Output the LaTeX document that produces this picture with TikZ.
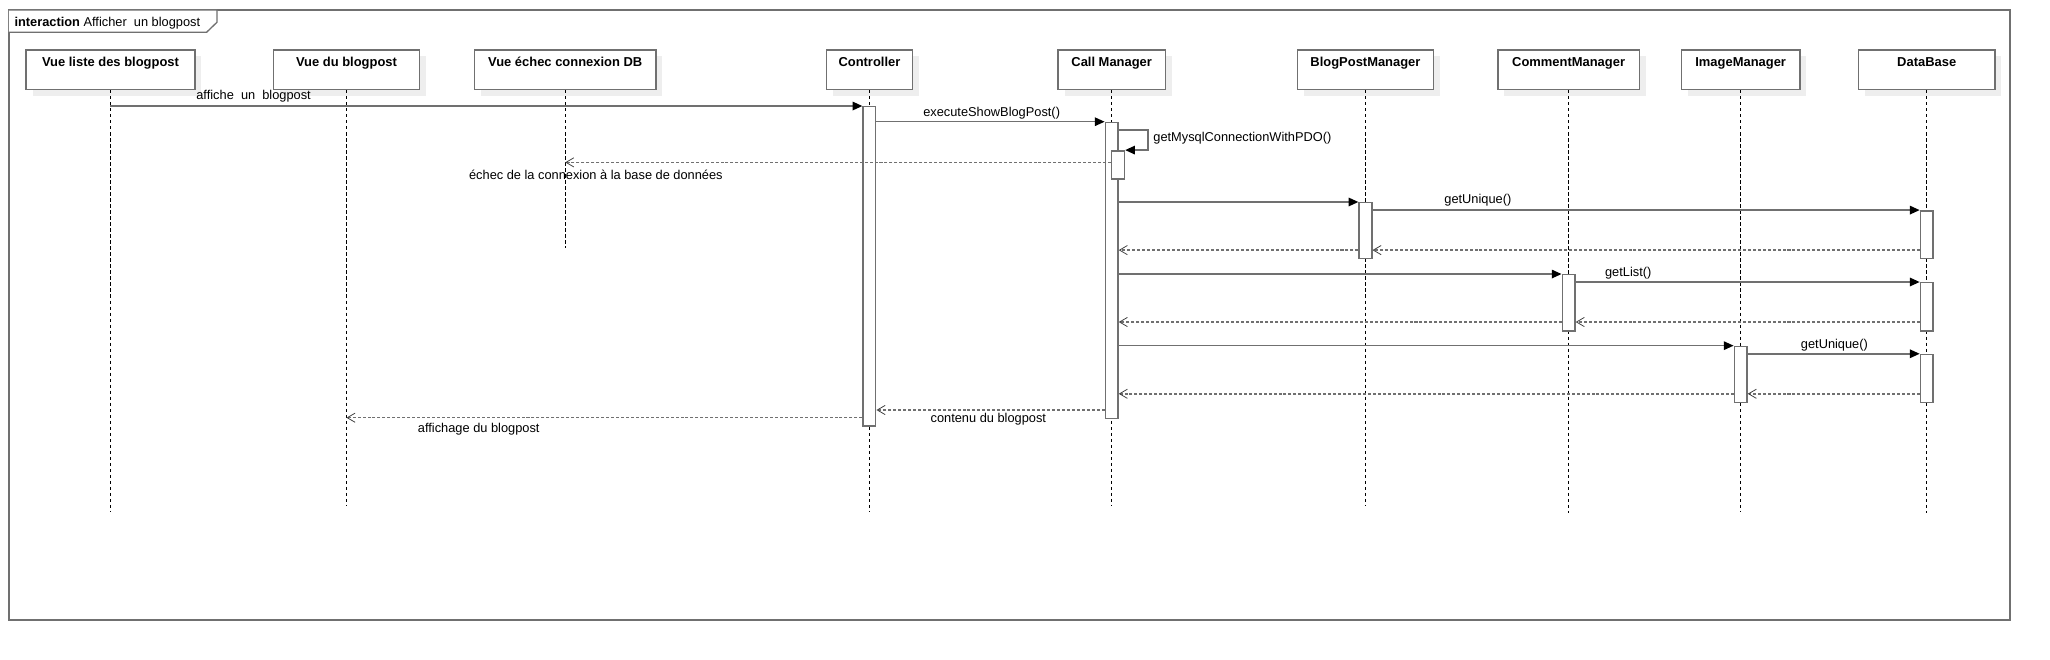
\documentclass[tikz,border=0pt]{standalone}
\usepackage{fontspec}
\setmainfont{Liberation Sans}
\usetikzlibrary{arrows.meta,shadows,calc}
\definecolor{lgray}{HTML}{707070}
\definecolor{tipgray}{HTML}{404040}
\definecolor{shgray}{HTML}{EEEEEE}
\begin{document}
\begin{tikzpicture}[x=1pt,y=-1pt,
  every node/.style={font=\fontsize{9.8}{11}\selectfont},
  lifebox/.style={draw=lgray, line width=1.1pt, fill=white, inner sep=0pt,
    text height=12.8pt, text depth=17.3pt, anchor=base,
    font=\fontsize{9.9}{11}\selectfont\bfseries,
    drop shadow={shadow xshift=5pt, shadow yshift=-4.8pt, fill=shgray, opacity=1}},
  lifeline/.style={draw=black, line width=0.6pt, dash pattern=on 2.6pt off 2pt},
  actbar/.style={draw=lgray, fill=white, line width=1.1pt, minimum width=9.7pt, inner sep=0pt, anchor=north},
  callmsg/.style={draw=lgray, line width=1.2pt, -{Triangle[length=7.5pt,width=6.5pt,fill=black,color=black]}},
  retmsg/.style={draw=lgray, line width=1.1pt, dash pattern=on 2.3pt off 1.5pt, -{Straight Barb[length=6pt,width=7pt,color=tipgray,line width=0.6pt]}},
  msglabel/.style={anchor=base west, inner sep=0pt},
]
\useasboundingbox (0,0) rectangle (1568,504.8);

% frame
\draw[draw=lgray, line width=1.2pt] (6.8,7.6) rectangle (1537.5,474.2);
\draw[draw=lgray, line width=1pt, fill=white] (6.8,7.6) -- (166,7.6) -- (166,17) -- (158,24.7) -- (6.8,24.7);
\node[msglabel] (title) at (10.9,20.4) {\textbf{interaction} Afficher\ \ un blogpost};

% lifeline heads
\node[lifebox, minimum width=129pt]   (vl)  at (84.5,51)  {Vue liste des blogpost};
\node[lifebox, minimum width=111.7pt] (vb)  at (265,51)   {Vue du blogpost};
\node[lifebox, minimum width=138.6pt] (vc)  at (432.3,51) {Vue échec connexion DB};
\node[lifebox, minimum width=66pt]    (ctl) at (665,51)   {Controller};
\node[lifebox, minimum width=82pt]    (cm)  at (850.3,51) {Call Manager};
\node[lifebox, minimum width=104pt]   (bpm) at (1044.4,51){BlogPostManager};
\node[lifebox, minimum width=108.2pt] (com) at (1199.8,51){CommentManager};
\node[lifebox, minimum width=90.4pt]  (im)  at (1331.4,51){ImageManager};
\node[lifebox, minimum width=104.3pt] (db)  at (1473.7,51){DataBase};

% lifeline ends
\coordinate (vlend)  at (84.5,391.3);
\coordinate (vbend)  at (265,387);
\coordinate (vcend)  at (432.3,190);
\coordinate (ctlend) at (665,391.3);
\coordinate (cmend)  at (850.3,387);
\coordinate (bpmend) at (1044.4,387);
\coordinate (comend) at (1199.8,392);
\coordinate (imend)  at (1331.4,391);
\coordinate (dbend)  at (1473.7,392);
\foreach \a/\b in {vl/vlend,vb/vbend,vc/vcend,ctl/ctlend,cm/cmend,bpm/bpmend,com/comend,im/imend,db/dbend}
  \draw[lifeline] (\a.south) -- (\b);

% activation bars
\node[actbar, minimum height=244.3pt] (ctlbar) at (665,81.1) {};
\node[actbar, minimum height=226.4pt] (cmbar)  at (850.3,93.1) {};
\node[actbar, minimum height=21.6pt]  (cmbar2) at (855.2,114.8) {};
\node[actbar, minimum height=42.6pt]  (bpmbar) at (1044.4,154.5) {};
\node[actbar, minimum height=36.4pt]  (dbbar1) at (1473.7,160.7) {};
\node[actbar, minimum height=42.9pt]  (combar) at (1199.8,209.6) {};
\node[actbar, minimum height=36.8pt]  (dbbar2) at (1473.7,215.7) {};
\node[actbar, minimum height=42.9pt]  (imbar)  at (1331.4,264.4) {};
\node[actbar, minimum height=36.7pt]  (dbbar3) at (1473.7,270.6) {};

% messages
\draw[callmsg] (vl.south |- ctlbar.north) -- (ctlbar.north west);
\node[msglabel] (m1) at (150,76) {affiche\ \ un\ \ blogpost};

\draw[callmsg] (ctlbar.east |- cmbar.north) -- (cmbar.north west);
\node[msglabel] (m2) at (706,89) {executeShowBlogPost()};

\draw[callmsg] (cmbar.east |- 0,99.5) -- (878,99.5) |- (cmbar2.north east);
\node[msglabel] (m3) at (882,108.4) {getMysqlConnectionWithPDO()};

\draw[retmsg] (cmbar2.west |- 0,124.2) -- (vc.south |- 0,124.2);
\node[msglabel] (m4) at (358.6,137) {échec de la connexion à la base de données};

\draw[callmsg] (cmbar.east |- bpmbar.north) -- (bpmbar.north west);
\draw[callmsg] (bpmbar.east |- dbbar1.north) -- (dbbar1.north west);
\node[msglabel] (m5) at (1104.6,155.6) {getUnique()};
\draw[retmsg] (dbbar1.west |- 0,191.3) -- (bpmbar.east |- 0,191.3);
\draw[retmsg] (bpmbar.west |- 0,191.3) -- (cmbar.east |- 0,191.3);

\draw[callmsg] (cmbar.east |- combar.north) -- (combar.north west);
\draw[callmsg] (combar.east |- dbbar2.north) -- (dbbar2.north west);
\node[msglabel] (m6) at (1227.5,211.7) {getList()};
\draw[retmsg] (dbbar2.west |- 0,246.3) -- (combar.east |- 0,246.3);
\draw[retmsg] (combar.west |- 0,246.3) -- (cmbar.east |- 0,246.3);

\draw[callmsg] (cmbar.east |- imbar.north) -- (imbar.north west);
\draw[callmsg] (imbar.east |- dbbar3.north) -- (dbbar3.north west);
\node[msglabel] (m7) at (1377.3,266.5) {getUnique()};
\draw[retmsg] (dbbar3.west |- 0,301.2) -- (imbar.east |- 0,301.2);
\draw[retmsg] (imbar.west |- 0,301.2) -- (cmbar.east |- 0,301.2);

\draw[retmsg] (cmbar.west |- 0,313.6) -- (ctlbar.east |- 0,313.6);
\node[msglabel] (m8) at (711.6,323.3) {contenu du blogpost};

\draw[retmsg] (ctlbar.west |- 0,319.5) -- (vb.south |- 0,319.5);
\node[msglabel] (m9) at (319.5,331) {affichage du blogpost};
\end{tikzpicture}
\end{document}
